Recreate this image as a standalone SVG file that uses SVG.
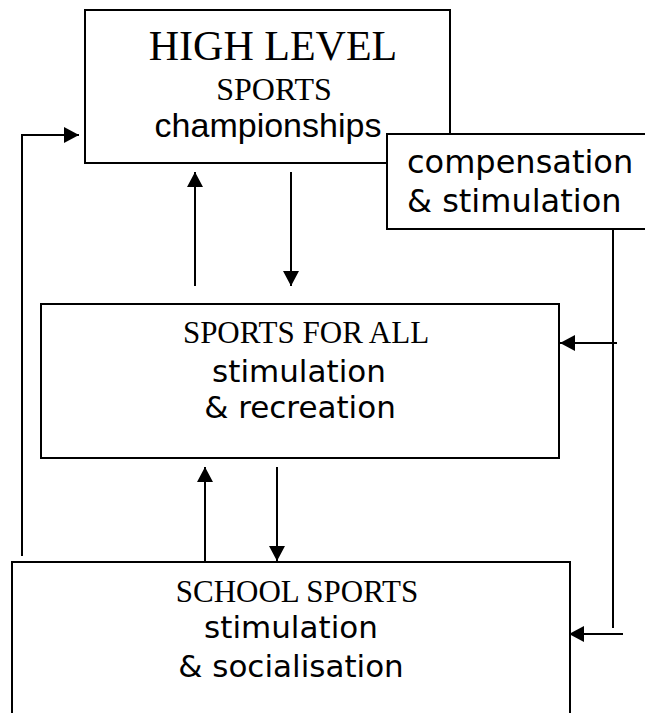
<svg xmlns="http://www.w3.org/2000/svg" width="645" height="713" viewBox="0 0 645 713">
  <style>
    .box { fill: #ffffff; stroke: #000000; stroke-width: 2; }
    .conn { fill: none; stroke: #000000; stroke-width: 2; }
    .serif { font-family: "Liberation Serif", "Times New Roman", serif; fill: #000000; }
    .arial { font-family: "Liberation Sans", Arial, sans-serif; fill: #000000; }
    .sans { font-family: "DejaVu Sans", "Liberation Sans", sans-serif; fill: #000000; }
  </style>
  <defs>
    <marker id="arrow" markerUnits="userSpaceOnUse" markerWidth="16" markerHeight="16" refX="15" refY="8" orient="auto">
      <path d="M0,0 L15,8 L0,16 z" fill="#000000"/>
    </marker>
  </defs>
  <rect width="645" height="713" fill="#ffffff"/>

  <g id="high-level">
    <rect class="box" x="85" y="10" width="365" height="153"/>
    <text class="serif" x="273" y="60" font-size="42" text-anchor="middle">HIGH LEVEL</text>
    <text class="serif" x="274" y="100" font-size="32" text-anchor="middle">SPORTS</text>
    <text class="arial" x="268" y="137" font-size="34" text-anchor="middle">championships</text>
  </g>

  <g id="compensation">
    <rect class="box" x="387" y="134" width="262" height="95"/>
    <text class="sans" x="407" y="173" font-size="32">compensation</text>
    <text class="sans" x="407" y="212" font-size="32">&amp; stimulation</text>
  </g>

  <g id="sports-for-all">
    <rect class="box" x="41" y="304" width="518" height="154"/>
    <text class="serif" x="306" y="343" font-size="31" text-anchor="middle">SPORTS FOR ALL</text>
    <text class="sans" x="299" y="382" font-size="31" text-anchor="middle">stimulation</text>
    <text class="sans" x="300" y="418" font-size="31" text-anchor="middle">&amp; recreation</text>
  </g>

  <g id="school-sports">
    <rect class="box" x="12" y="562" width="558" height="160"/>
    <text class="serif" x="297" y="602" font-size="31" text-anchor="middle">SCHOOL SPORTS</text>
    <text class="sans" x="291" y="638" font-size="31" text-anchor="middle">stimulation</text>
    <text class="sans" x="291" y="677" font-size="31" text-anchor="middle">&amp; socialisation</text>
  </g>

  <g id="connectors">
    <polyline class="conn" points="22,556 22,135 79,135" marker-end="url(#arrow)"/>
    <line class="conn" x1="195" y1="286" x2="195" y2="172" marker-end="url(#arrow)"/>
    <line class="conn" x1="291" y1="172" x2="291" y2="286" marker-end="url(#arrow)"/>
    <line class="conn" x1="205" y1="562" x2="205" y2="467" marker-end="url(#arrow)"/>
    <line class="conn" x1="277" y1="467" x2="277" y2="561" marker-end="url(#arrow)"/>
    <line class="conn" x1="613" y1="229" x2="613" y2="628"/>
    <line class="conn" x1="617" y1="343" x2="560" y2="343" marker-end="url(#arrow)"/>
    <line class="conn" x1="623" y1="634" x2="569" y2="634" marker-end="url(#arrow)"/>
  </g>
</svg>
